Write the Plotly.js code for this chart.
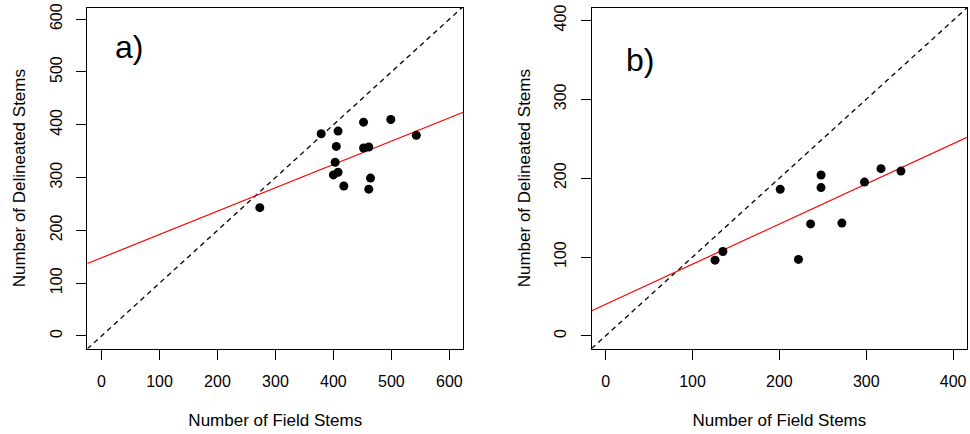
<!DOCTYPE html>
<html>
<head>
<meta charset="utf-8">
<script src="https://cdn.plot.ly/plotly-3.0.1.min.js"></script>
<style>html,body{margin:0;padding:0;background:#fff;}#chart{width:970px;height:434px;}</style>
</head>
<body>
<div id="chart"></div>
<script>
// Panel a) data
const fieldA = [273, 379, 408, 405, 403, 400, 408, 418, 452, 452, 461, 499, 543, 464, 461];
const delinA = [243, 383, 388, 359, 329, 305, 310, 284, 405, 356, 358, 410, 380, 299, 278];
// Panel b) data
const fieldB = [126, 135, 201, 222, 236, 248, 248, 272, 298, 317, 340];
const delinB = [96, 107, 186, 97, 142, 204, 188, 143, 195, 212, 209];
// Fitted regression lines [intercept, slope]
const fitA = [148, 0.442];
const fitB = [40, 0.509];
// Axis ranges
const rangeAx = [-24.5, 624];
const rangeAy = [-23.7, 621.5];
const rangeBx = [-16, 416];
const rangeBy = [-16, 416];
const tickA = [0, 100, 200, 300, 400, 500, 600];
const tickB = [0, 100, 200, 300, 400];
const panelLabels = ["a)", "b)"];
const xTitle = "Number of Field Stems";
const yTitle = "Number of Delineated Stems";

const FONT = "Liberation Sans, Arial, Helvetica, sans-serif";

function lineFrom(fit, xr) { return xr.map(x => fit[0] + fit[1] * x); }

const traces = [
  {x: rangeAx, y: rangeAx, xaxis: 'x', yaxis: 'y', mode: 'lines',
   line: {color: 'black', width: 1.3, dash: '5px,4px'}, hoverinfo: 'skip'},
  {x: rangeAx, y: lineFrom(fitA, rangeAx), xaxis: 'x', yaxis: 'y', mode: 'lines',
   line: {color: '#ff0000', width: 1.2}, hoverinfo: 'skip'},
  {x: fieldA, y: delinA, xaxis: 'x', yaxis: 'y', mode: 'markers',
   marker: {color: 'black', size: 9}, cliponaxis: false},
  {x: rangeBx, y: rangeBx, xaxis: 'x2', yaxis: 'y2', mode: 'lines',
   line: {color: 'black', width: 1.3, dash: '5px,4px'}, hoverinfo: 'skip'},
  {x: rangeBx, y: lineFrom(fitB, rangeBx), xaxis: 'x2', yaxis: 'y2', mode: 'lines',
   line: {color: '#ff0000', width: 1.2}, hoverinfo: 'skip'},
  {x: fieldB, y: delinB, xaxis: 'x2', yaxis: 'y2', mode: 'markers',
   marker: {color: 'black', size: 9}, cliponaxis: false}
];

function axis(range, ticks, domain, anchor, isY, title) {
  return {
    range: range, domain: domain, anchor: anchor,
    tickmode: 'array', tickvals: ticks, ticktext: ticks.map(String),
    ticks: 'outside', ticklen: 10, tickwidth: 1, tickcolor: 'black',
    ticklabelstandoff: 8,
    tickangle: isY ? -90 : 0,
    tickfont: {family: FONT, size: 16, color: 'black'},
    showline: true, mirror: true, linecolor: 'black', linewidth: 1,
    showgrid: false, zeroline: false, automargin: false, fixedrange: true,
    title: {text: title, font: {family: FONT, size: 17, color: 'black'}, standoff: isY ? 17 : 25}
  };
}

const yDom = [0.197, 0.982];
const layout = {
  width: 970, height: 434,
  margin: {l: 0, r: 0, t: 0, b: 0},
  paper_bgcolor: 'white', plot_bgcolor: 'white',
  showlegend: false,
  xaxis: axis(rangeAx, tickA, [0.0900, 0.4776], 'y', false, xTitle),
  yaxis: axis(rangeAy, tickA, yDom, 'x', true, yTitle),
  xaxis2: axis(rangeBx, tickB, [0.6100, 0.9969], 'y2', false, xTitle),
  yaxis2: axis(rangeBy, tickB, yDom, 'x2', true, yTitle),
  annotations: [
    {x: 48, y: 548, xref: 'x', yref: 'y', text: panelLabels[0], showarrow: false,
     font: {family: FONT, size: 32, color: 'black'}},
    {x: 40, y: 350, xref: 'x2', yref: 'y2', text: panelLabels[1], showarrow: false,
     font: {family: FONT, size: 32, color: 'black'}}
  ]
};

Plotly.newPlot('chart', traces, layout, {displayModeBar: false, staticPlot: true});
</script>
</body>
</html>
